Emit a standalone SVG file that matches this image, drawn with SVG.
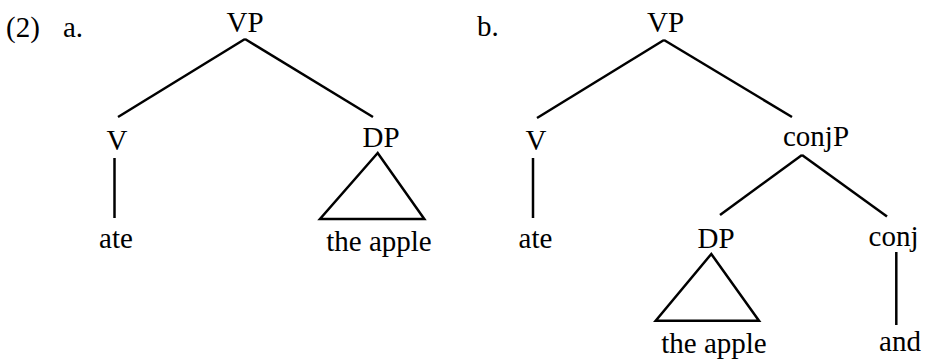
<svg xmlns="http://www.w3.org/2000/svg" width="926" height="363" viewBox="0 0 926 363">
<style>
text{font-family:'Liberation Serif','Times New Roman','DejaVu Serif',serif;font-size:29px;fill:#000;text-anchor:middle}
.l{text-anchor:start}
line,polygon{stroke:#000;stroke-width:2.5;fill:none}
</style>
<rect width="926" height="363" fill="#fff"/>
<g id="labels" font-family="Liberation Serif, serif">
<text class="l" x="6" y="37">(2)</text>
<text class="l" x="63" y="37">a.</text>
<text class="l" x="477" y="36">b.</text>
</g>
<g id="a-VP"><text x="245" y="32">VP</text></g>
<g id="a-V"><text x="117" y="150">V</text></g>
<g id="a-ate"><text x="116" y="248">ate</text></g>
<g id="a-DP"><text x="381" y="147">DP</text></g>
<g id="a-theapple"><text x="379" y="251">the apple</text></g>
<g id="b-VP"><text x="665.5" y="32">VP</text></g>
<g id="b-V"><text x="536" y="150">V</text></g>
<g id="b-ate"><text x="535.5" y="248">ate</text></g>
<g id="b-conjP"><text x="816" y="146">conjP</text></g>
<g id="b-DP"><text x="716" y="248">DP</text></g>
<g id="b-theapple"><text x="714" y="353">the apple</text></g>
<g id="b-conj"><text x="893.5" y="246">conj</text></g>
<g id="b-and"><text x="900" y="351">and</text></g>
<g id="connectors">
<line x1="245" y1="39" x2="118" y2="117"/>
<line x1="245" y1="39" x2="373" y2="117"/>
<line x1="114.5" y1="158" x2="114.5" y2="218"/>
<polygon points="377.7,153 320,219 424.3,219"/>
<line x1="664" y1="40" x2="537" y2="118"/>
<line x1="664" y1="40" x2="792" y2="117"/>
<line x1="533" y1="158" x2="533" y2="218"/>
<line x1="802" y1="155" x2="720" y2="215"/>
<line x1="802" y1="155" x2="887" y2="216.5"/>
<polygon points="711.3,254 655.7,320.7 759,320.7"/>
<line x1="896.3" y1="252" x2="896.3" y2="325"/>
</g>
</svg>
